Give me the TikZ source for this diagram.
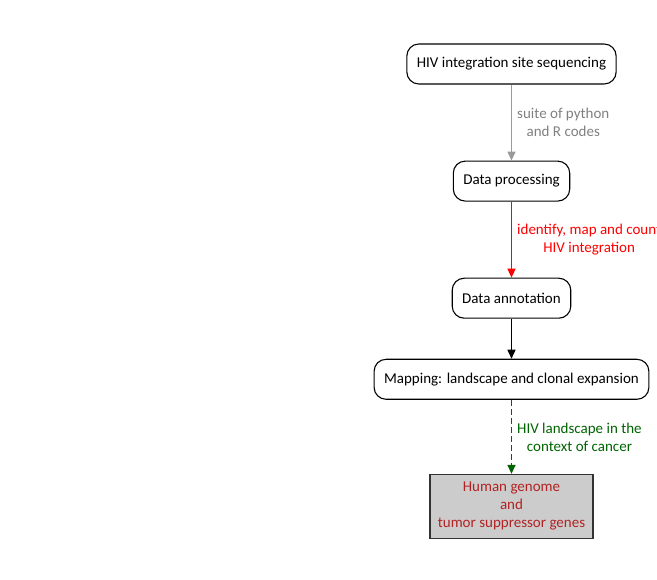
\documentclass[tikz,border=0pt]{standalone}
\usepackage{fontspec}
\setmainfont{Carlito}
\usepackage{xcolor}
\usetikzlibrary{arrows.meta, positioning}
\definecolor{codegray}{HTML}{808080}
\definecolor{mapgreen}{HTML}{006400}
\definecolor{genered}{HTML}{B22222}
\definecolor{boxfill}{HTML}{CCCCCC}

\begin{document}
\begin{tikzpicture}[
    step box/.style={draw, rounded corners=12pt, line width=1.1pt, minimum height=40pt, inner xsep=10pt, font=\fontsize{15}{18}\selectfont},
    gene box/.style={draw=black!80, line width=1.1pt, fill=boxfill, minimum width=163pt, minimum height=64pt, align=center, text=genered, font=\fontsize{15}{18}\selectfont},
    flow/.style={-{Triangle[length=9pt,width=8pt]}, line width=1.4pt},
    flow label/.style={right, align=center, inner xsep=5pt, font=\fontsize{15}{18}\selectfont},
    node distance=76pt
  ]
  \useasboundingbox (0,0) rectangle (657pt,-580pt);
        \node[step box] (seq) at (511.5pt,-64pt) {HIV integration site sequencing};
        \node[step box, below=76pt of seq] (proc) {Data processing};
        \node[step box, below=76pt of proc] (annot) {Data annotation};
        \node[step box, below=40pt of annot] (map) {Mapping: landscape and clonal expansion};
        \node[gene box, below=74pt of map] (genes) {Human genome\\and\\tumor suppressor genes};
        \draw[flow, codegray!80] (seq) -- (proc)
            node[flow label, midway, text=codegray] {suite of python\\and R codes};
        \draw[flow, red] (proc) -- (annot)
            node[flow label, midway, text=red] {identify, map and count\\HIV integration};
        \draw[flow, black] (annot) -- (map);
        \draw[flow, mapgreen, dash pattern=on 6pt off 3pt] (map) -- (genes)
            node[flow label, midway, text=mapgreen] {HIV landscape in the\\context of cancer};
    \end{tikzpicture}
\end{document}
